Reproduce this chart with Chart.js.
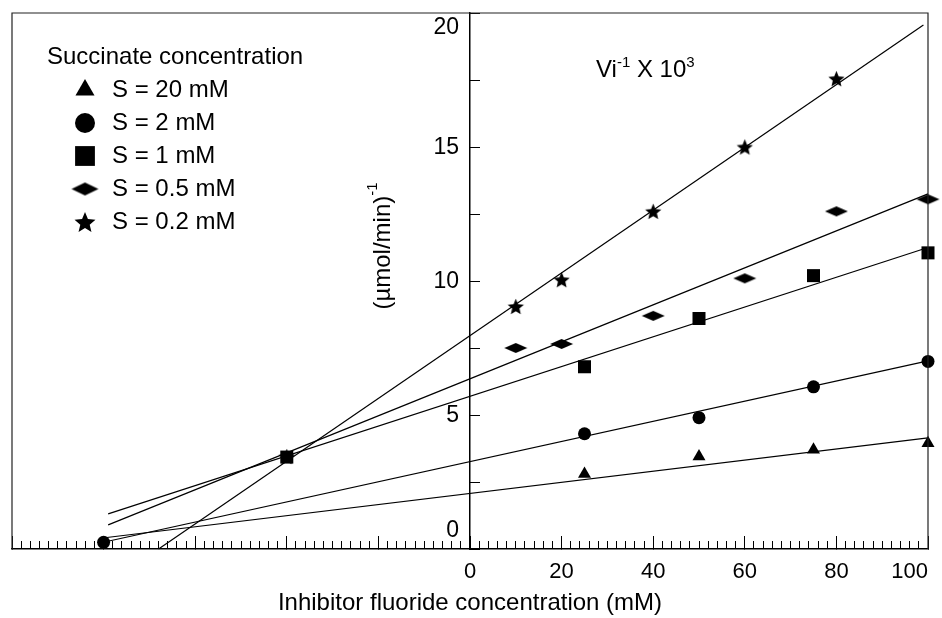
<!DOCTYPE html>
<html>
<head>
<meta charset="utf-8">
<script src="https://cdn.jsdelivr.net/npm/chart.js@4.4.1/dist/chart.umd.min.js"></script>
<style>
  html, body { margin: 0; padding: 0; background: #fff; }
</style>
</head>
<body>
<canvas id="plot" width="942" height="618"></canvas>
<script>
// values
const seriesLabels = ['S = 20 mM', 'S = 2 mM', 'S = 1 mM', 'S = 0.5 mM', 'S = 0.2 mM'];

const xS20 = [25, 50, 75, 100];
const yS20 = [2.8, 3.45, 3.7, 3.95];
const xS2 = [-80, 25, 50, 75, 100];
const yS2 = [0.25, 4.3, 4.9, 6.05, 7.0];
const xS1 = [-40, 25, 50, 75, 100];
const yS1 = [3.43, 6.8, 8.6, 10.2, 11.05];
const xS05 = [10, 20, 40, 60, 80, 100];
const yS05 = [7.5, 7.65, 8.7, 10.1, 12.6, 13.05];
const xS02 = [-40, 10, 20, 40, 60, 80];
const yS02 = [3.45, 9.05, 10.05, 12.6, 15.0, 17.55];

// fitted lines, start and end of each
const fitX = [[-79.3, 100], [-79.3, 100], [-79, 100], [-79, 100], [-68, 99]];
const fitY = [[0.43, 4.15], [0.28, 7.02], [1.31, 11.25], [0.9, 13.25], [0, 19.55]];

const xTickLabels = [0, 20, 40, 60, 80, 100];
const yTickLabels = [0, 5, 10, 15, 20];

const FONT = "'Liberation Sans', Arial, sans-serif";
Chart.defaults.font.family = FONT;
Chart.defaults.color = '#000';

/** --- custom markers --- **/

function starImage(r) {
    const c = document.createElement('canvas');
    c.width = c.height = Math.ceil(r * 2 + 2);
    const ctx = c.getContext('2d');
    const cx = c.width / 2, cy = c.height / 2 + r * 0.1;
    ctx.beginPath();
    for (let i = 0; i < 10; i++) {
        const rad = i % 2 ? r * 0.45 : r;
        const a = -Math.PI / 2 + i * Math.PI / 5;
        ctx.lineTo(cx + rad * Math.cos(a), cy + rad * Math.sin(a));
    }
    ctx.closePath();
    ctx.fill();
    return c;
}

function diamondImage(w, h) {
    const c = document.createElement('canvas');
    c.width = w + 2; c.height = h + 2;
    const ctx = c.getContext('2d');
    ctx.beginPath();
    ctx.moveTo(1, c.height / 2);
    ctx.lineTo(c.width / 2, 1);
    ctx.lineTo(c.width - 1, c.height / 2);
    ctx.lineTo(c.width / 2, c.height - 1);
    ctx.closePath();
    ctx.fill();
    return c;
}

const plotMarkers = [
    { style: 'triangle', radius: 7.5 },
    { style: 'circle', radius: 6.5 },
    { style: 'rect', radius: 9.2 },
    { style: diamondImage(23, 10), radius: 12 },
    { style: starImage(8.5), radius: 9 },
];
const legendMarkers = [
    { style: 'triangle', radius: 11 },
    { style: 'circle', radius: 10 },
    { style: 'rect', radius: 14 },
    { style: diamondImage(27, 13), radius: 14 },
    { style: starImage(11), radius: 11 },
];

/** --- datasets --- **/

const toPoints = (xs, ys) => xs.map((x, i) => ({ x, y: ys[i] }));
const pointSets = [[xS20, yS20], [xS2, yS2], [xS1, yS1], [xS05, yS05], [xS02, yS02]];

const datasets = [];
pointSets.forEach(([xs, ys], i) => {
    datasets.push({
        label: seriesLabels[i],
        data: toPoints(xs, ys),
        showLine: false,
        pointStyle: plotMarkers[i].style,
        pointRadius: plotMarkers[i].radius,
        pointBackgroundColor: '#000',
        pointBorderWidth: 0,
        clip: false,
        order: 1,
    });
});
fitX.forEach((xs, i) => {
    datasets.push({
        label: 'fit ' + seriesLabels[i],
        data: toPoints(xs, fitY[i]),
        showLine: true,
        borderColor: '#000',
        borderWidth: 1.2,
        pointRadius: 0,
        clip: false,
        order: 2,
    });
});

/** --- frame, legend, labels --- **/

const decorPlugin = {
    id: 'decor',
    afterDraw(chart) {
        const { ctx, chartArea: a } = chart;
        const yScale = chart.scales.y;
        ctx.save();
        ctx.strokeStyle = '#222';
        ctx.lineWidth = 1.2;
        ctx.beginPath();
        ctx.moveTo(a.left, a.bottom);
        ctx.lineTo(a.left, a.top);
        ctx.lineTo(a.right, a.top);
        ctx.lineTo(a.right, a.bottom);
        ctx.stroke();

        // y tick labels, left of the zero line; end ones pulled inside
        ctx.fillStyle = '#000';
        ctx.font = `23px ${FONT}`;
        ctx.textAlign = 'right';
        ctx.textBaseline = 'middle';
        const labelX = chart.scales.x.getPixelForValue(0) - 11;
        yTickLabels.forEach(v => {
            let py = yScale.getPixelForValue(v) + 1;
            py = Math.max(a.top + 15, Math.min(a.bottom - 18, py));
            ctx.fillText(String(v), labelX, py);
        });

        // legend
        ctx.textAlign = 'left';
        ctx.font = `24px ${FONT}`;
        ctx.fillText('Succinate concentration', 47, 57);
        seriesLabels.forEach((lbl, i) => {
            const y = 90 + i * 33;
            Chart.helpers.drawPoint(ctx, { pointStyle: legendMarkers[i].style, radius: legendMarkers[i].radius, rotation: 0, borderWidth: 0 }, 85, y);
            ctx.fillStyle = '#000';
            ctx.fillText(lbl, 112, y);
        });

        // Vi^-1 X 10^3
        let x = 596;
        const base = 77;
        ctx.textBaseline = 'alphabetic';
        const put = (t, size, dy) => {
            ctx.font = `${size}px ${FONT}`;
            ctx.fillText(t, x, base + dy);
            x += ctx.measureText(t).width;
        };
        put('Vi', 24, 0);
        put('-1', 15, -10);
        put(' X 10', 24, 0);
        put('3', 15, -10);

        // y title, rotated
        ctx.translate(383, 246);
        ctx.rotate(-Math.PI / 2);
        const main = '(\u00b5mol/min)';
        ctx.font = `15px ${FONT}`;
        const supW = ctx.measureText('-1').width;
        ctx.font = `24px ${FONT}`;
        const mw = ctx.measureText(main).width;
        const start = -(mw + supW) / 2;
        ctx.textBaseline = 'middle';
        ctx.fillText(main, start, 0);
        ctx.font = `15px ${FONT}`;
        ctx.fillText('-1', start + mw, -10);
        ctx.restore();
    }
};

new Chart(document.getElementById('plot'), {
    type: 'scatter',
    data: { datasets },
    options: {
        responsive: false,
        devicePixelRatio: 1,
        animation: false,
        layout: { padding: { left: 9, top: 13, right: 14, bottom: 0 } },
        plugins: { legend: { display: false }, tooltip: { enabled: false } },
        scales: {
            x: {
                type: 'linear', min: -100, max: 100, position: 'bottom',
                ticks: {
                    stepSize: 20, align: 'inner', padding: 23,
                    font: { size: 22 },
                    callback: v => xTickLabels.includes(v) ? String(v) : '',
                },
                grid: { drawOnChartArea: false, tickLength: -13, color: '#000' },
                border: { color: '#000', width: 1.5 },
                title: { display: true, text: 'Inhibitor fluoride concentration (mM)', font: { size: 24 }, padding: { top: 0, bottom: 0 } },
                afterFit: s => { s.height = 69; s.paddingLeft = 0; s.paddingRight = 0; },
            },
            xMinor: {
                type: 'linear', min: -100, max: 100, position: { y: 0 },
                ticks: { display: false, stepSize: 2 },
                grid: { drawOnChartArea: false, tickLength: -8, color: '#000' },
                border: { display: false },
            },
            y: {
                type: 'linear', min: 0, max: 20, position: { x: 0 },
                ticks: { stepSize: 2.5, callback: () => '' },
                grid: { drawOnChartArea: false, tickLength: -11, color: '#000' },
                border: { color: '#000', width: 1.5 },
            },
        },
    },
    plugins: [decorPlugin],
});
</script>
</body>
</html>
